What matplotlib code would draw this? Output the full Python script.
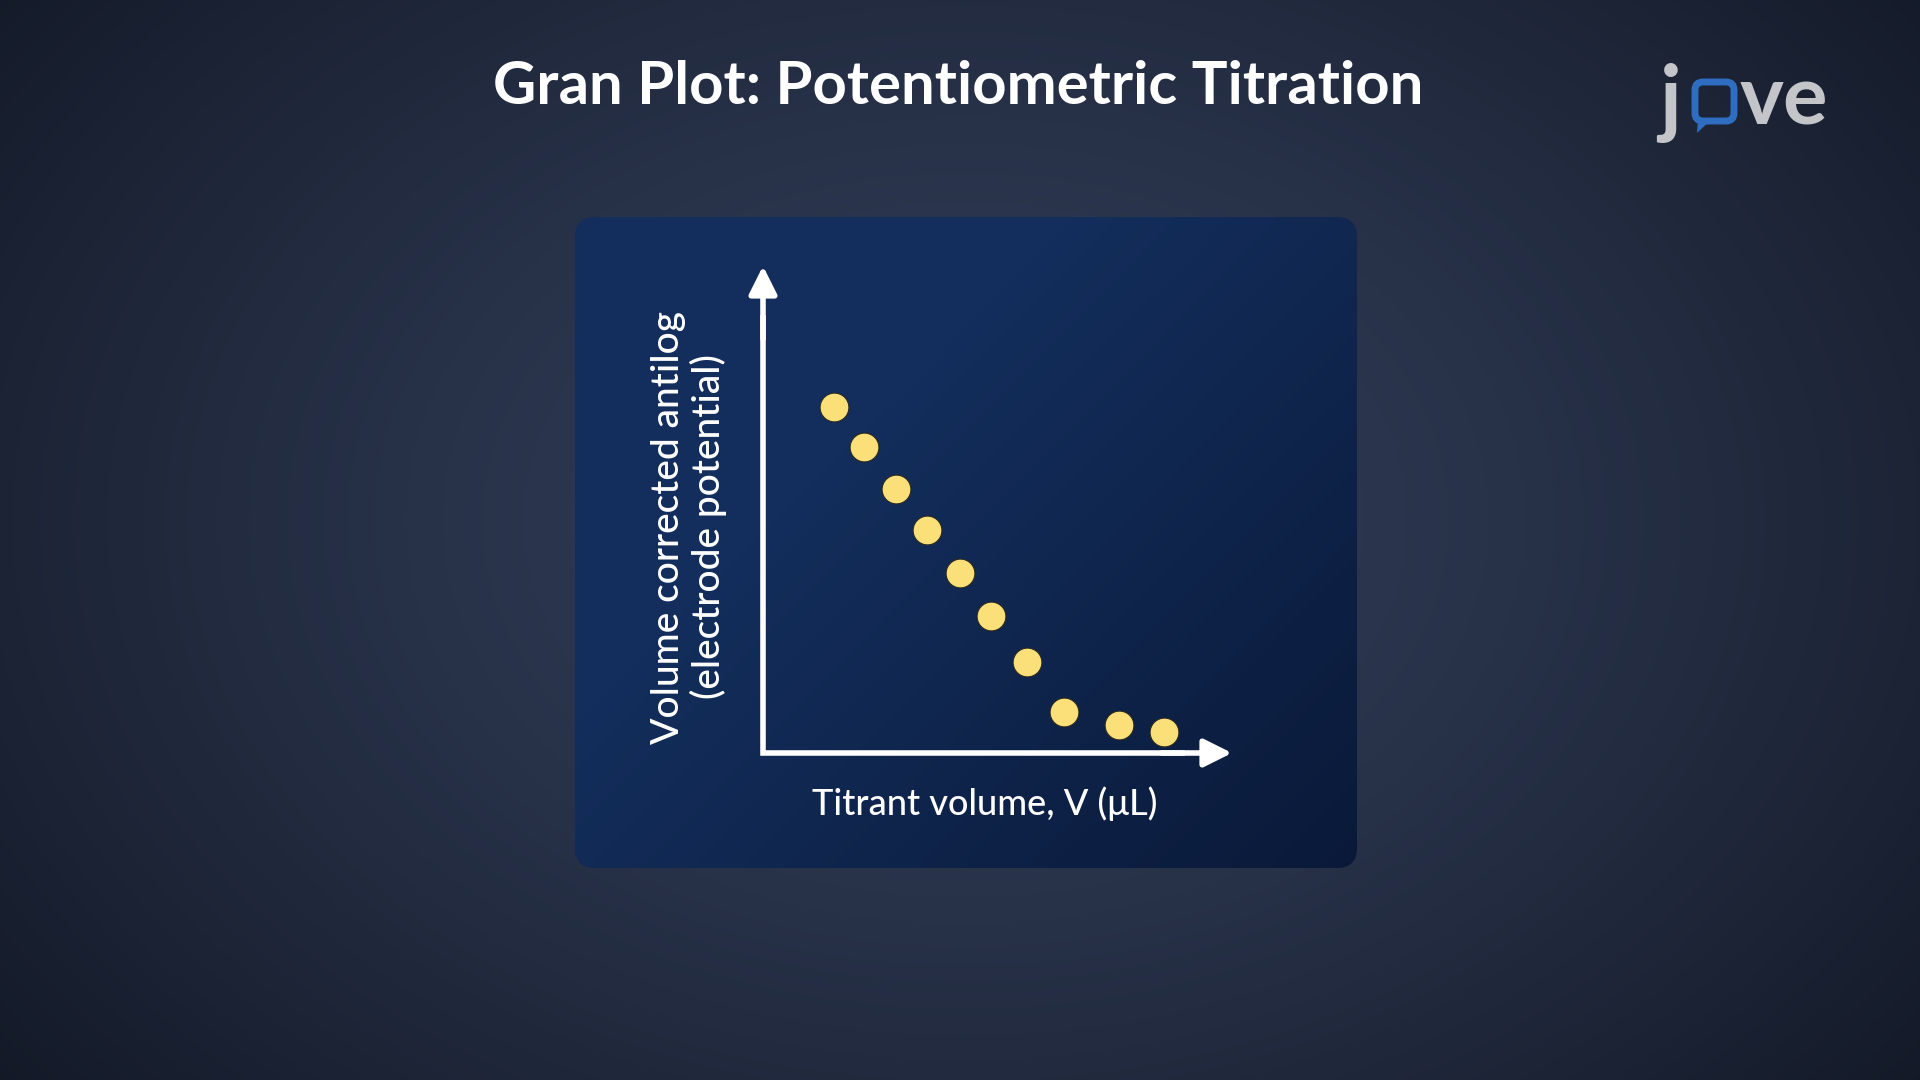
import matplotlib.pyplot as plt
import numpy as np
from matplotlib.patches import FancyBboxPatch, Polygon

plt.rcParams['font.family'] = ['Lato', 'DejaVu Sans']

# data (arbitrary units, axis spans 0..10)
titrant_volume = [1.51, 2.15, 2.84, 3.50, 4.20, 4.86, 5.63, 6.42, 7.59, 8.55]
antilog_value = [7.10, 6.28, 5.42, 4.58, 3.70, 2.81, 1.87, 0.84, 0.57, 0.43]

title = "Gran Plot: Potentiometric Titration"
xlabel = "Titrant volume, V (\u03bcL)"
ylabel_1 = "Volume corrected antilog"
ylabel_2 = "(electrode potential)"

W, H = 1920, 1080
fig = plt.figure(figsize=(19.2, 10.8), dpi=100)

# background radial gradient
bg = fig.add_axes([0, 0, 1, 1])
bg.set_axis_off()
yy, xx = np.mgrid[0:H, 0:W]
r = np.sqrt(((xx - 965) / 1250.0) ** 2 + ((yy - 520) / 900.0) ** 2)
r = np.clip(r, 0, 1) ** 1.3
c0 = np.array([0x32, 0x3e, 0x59]) / 255.0
c1 = np.array([0x13, 0x19, 0x27]) / 255.0
img = c0[None, None, :] * (1 - r[..., None]) + c1[None, None, :] * r[..., None]
bg.imshow(img, extent=[0, W, H, 0], aspect='auto')
bg.set_xlim(0, W)
bg.set_ylim(H, 0)

# panel with diagonal gradient
px0, py0, px1, py1 = 575, 217, 1357, 868
panel = FancyBboxPatch((px0, py0), px1 - px0, py1 - py0,
                       boxstyle="round,pad=0,rounding_size=20",
                       facecolor='none', edgecolor='none')
bg.add_patch(panel)
gy, gx = np.mgrid[0:py1 - py0, 0:px1 - px0]
t = (gx / (px1 - px0) * 0.55 + gy / (py1 - py0) * 0.45)
t = np.clip((t - 0.35) / 0.65, 0, 1)
p0 = np.array([0x13, 0x2e, 0x5c]) / 255.0
p1 = np.array([0x0a, 0x19, 0x38]) / 255.0
pimg = p0[None, None, :] * (1 - t[..., None]) + p1[None, None, :] * t[..., None]
im = bg.imshow(pimg, extent=[px0, px1, py1, py0], aspect='auto', zorder=2)
im.set_clip_path(panel)

# title
bg.text(958, 87, title, color='white', fontsize=43, fontweight='bold',
        ha='center', va='center', zorder=5)

# jove logo
bg.text(1659, 103, "j", color='#c4c5c9', fontsize=62, fontweight='bold',
        ha='left', va='center', zorder=5)
bubble = FancyBboxPatch((1695, 82), 39, 39, boxstyle="round,pad=0,rounding_size=8",
                        facecolor='none', edgecolor='#2e6dbf', linewidth=5, zorder=5)
bg.add_patch(bubble)
bg.add_patch(Polygon([[1698, 118], [1713, 118], [1697, 133]], closed=True,
                     facecolor='#2e6dbf', edgecolor='none', zorder=5))
bg.text(1740, 101, "ve", color='#c4c5c9', fontsize=60, fontweight='bold',
        ha='left', va='center', zorder=5)

# plot axes
ox, oy, tipx, tipy = 763, 753, 1232, 266
ax = fig.add_axes([ox / W, (H - oy) / H, (tipx - ox) / W, (oy - tipy) / H])
ax.set_axis_off()
ax.patch.set_alpha(0)
ax.set_xlim(0, 10)
ax.set_ylim(0, 10)

ax.plot([0, 0, 9.0], [9.0, 0, 0], color='white', lw=4,
        solid_joinstyle='miter', solid_capstyle='butt', clip_on=False)
arrow = dict(arrowstyle='-|>,head_length=1.7,head_width=0.85', color='white',
             lw=4, shrinkA=0, shrinkB=0)
ax.annotate('', xy=(10, 0), xytext=(8.5, 0), arrowprops=arrow, annotation_clip=False)
ax.annotate('', xy=(0, 10), xytext=(0, 8.5), arrowprops=arrow, annotation_clip=False)

ax.scatter(titrant_volume, antilog_value, s=430, color='#fbe07a',
           edgecolor='#2a2a20', linewidth=0.8, zorder=4, clip_on=False)

bg.text(985, 804, xlabel, color='white', fontsize=26, fontweight='medium',
        ha='center', va='center', zorder=5)
bg.text(669, 527, ylabel_1, color='white', fontsize=28, fontweight='medium',
        rotation=90, ha='center', va='center', zorder=5)
bg.text(708, 527, ylabel_2, color='white', fontsize=28, fontweight='medium',
        rotation=90, ha='center', va='center', zorder=5)

fig.savefig('out.png', dpi=100)
